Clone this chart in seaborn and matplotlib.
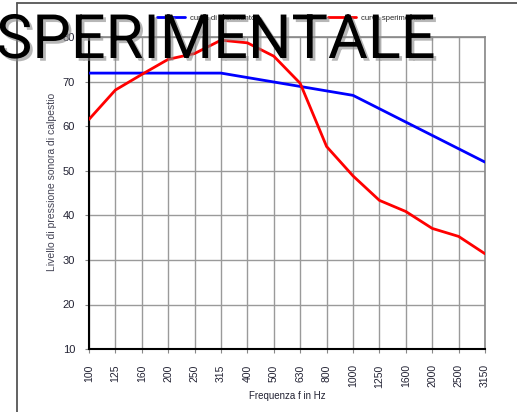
import matplotlib
matplotlib.use("Agg")
import matplotlib.pyplot as plt
import matplotlib.patheffects as pe
from matplotlib.lines import Line2D
import seaborn as sns
import pandas as pd

freqs = ["100", "125", "160", "200", "250", "315", "400", "500", "630", "800",
         "1000", "1250", "1600", "2000", "2500", "3150"]
riferimento = [72, 72, 72, 72, 72, 72, 71, 70, 69, 68, 67, 64, 61, 58, 55, 52]
sperimentale = [61.6, 68.2, 71.7, 75.1, 76.4, 79.4, 78.8, 75.8, 69.7, 55.5,
                48.9, 43.4, 40.9, 37.1, 35.3, 31.4]
series_names = ["curva di riferimento", "curva sperimentale"]
y_ticks = [10, 20, 30, 40, 50, 60, 70, 80]

df = pd.DataFrame({
    "freq": freqs * 2,
    "pos": list(range(len(freqs))) * 2,
    "value": riferimento + sperimentale,
    "serie": [series_names[0]] * len(freqs) + [series_names[1]] * len(freqs),
})

sns.set_style("white")
plt.rcParams["font.family"] = ["Liberation Sans", "DejaVu Sans"]

W, H = 517, 412
fig = plt.figure(figsize=(W / 100, H / 100), dpi=100)
ax = fig.add_axes([89 / W, 1 - 349 / H, (485 - 89) / W, (349 - 37.5) / H])

sns.lineplot(data=df, x="pos", y="value", hue="serie",
             palette={series_names[0]: "#0000ff", series_names[1]: "#ff0000"},
             linewidth=2.0, ax=ax, legend=False, sort=False, zorder=3)

ax.set_xlim(0, len(freqs) - 1)
ax.set_ylim(10, 80)
ax.set_xticks(range(len(freqs)))
ax.set_xticklabels(freqs, rotation=90, fontsize=7.5, color="#222233")
ax.set_yticks(y_ticks)
ax.set_yticklabels([str(v) for v in y_ticks], fontsize=8, color="#222233")
ax.tick_params(axis="both", direction="out", length=3, width=0.8,
               color="#888888", left=True, bottom=True)
ax.tick_params(axis="x", pad=8)
ax.tick_params(axis="y", pad=7)
ax.grid(True, color="#9a9a9a", linewidth=1.0)
ax.set_axisbelow(True)
for side in ["left", "bottom"]:
    ax.spines[side].set_color("black")
    ax.spines[side].set_linewidth(1.5)
for side in ["top", "right"]:
    ax.spines[side].set_color("#888888")
    ax.spines[side].set_linewidth(1.2)

ax.set_xlabel("Frequenza f in Hz", fontsize=7, color="#222233")
ax.xaxis.set_label_coords(0.5, -(391 - 349) / 311.5)
ax.set_ylabel("Livello di pressione sonora di calpestio", fontsize=7.5,
              color="#444455")
ax.yaxis.set_label_coords(-(89 - 57) / 396, (349 - 182) / 311.5)

handles = [Line2D([], [], color="#0000ff", lw=2.0),
           Line2D([], [], color="#ff0000", lw=2.0)]
fig.legend(handles, series_names, loc="center left",
           bbox_to_anchor=(157 / W, 1 - 18 / H), ncol=2, frameon=False,
           fontsize=5.5, handlelength=3.7, handletextpad=0.6,
           columnspacing=9.5, borderpad=0, borderaxespad=0)

# slide frame lines
fig.add_artist(Line2D([17 / W, 17 / W], [0, 1 - 3 / H], color="#555555", lw=1.3))
fig.add_artist(Line2D([17 / W, 1], [1 - 3 / H, 1 - 3 / H], color="#555555", lw=1.3))

fig.text(-4 / W, 1 - 58 / H, "SPERIMENTALE", fontsize=44,
         family=["Roboto", "Liberation Sans", "DejaVu Sans"],
         color="black", va="baseline", ha="left", zorder=10,
         path_effects=[pe.withSimplePatchShadow(offset=(2, -2),
                                                shadow_rgbFace="#888888",
                                                alpha=0.6)])

fig.savefig("out.png", dpi=100)
